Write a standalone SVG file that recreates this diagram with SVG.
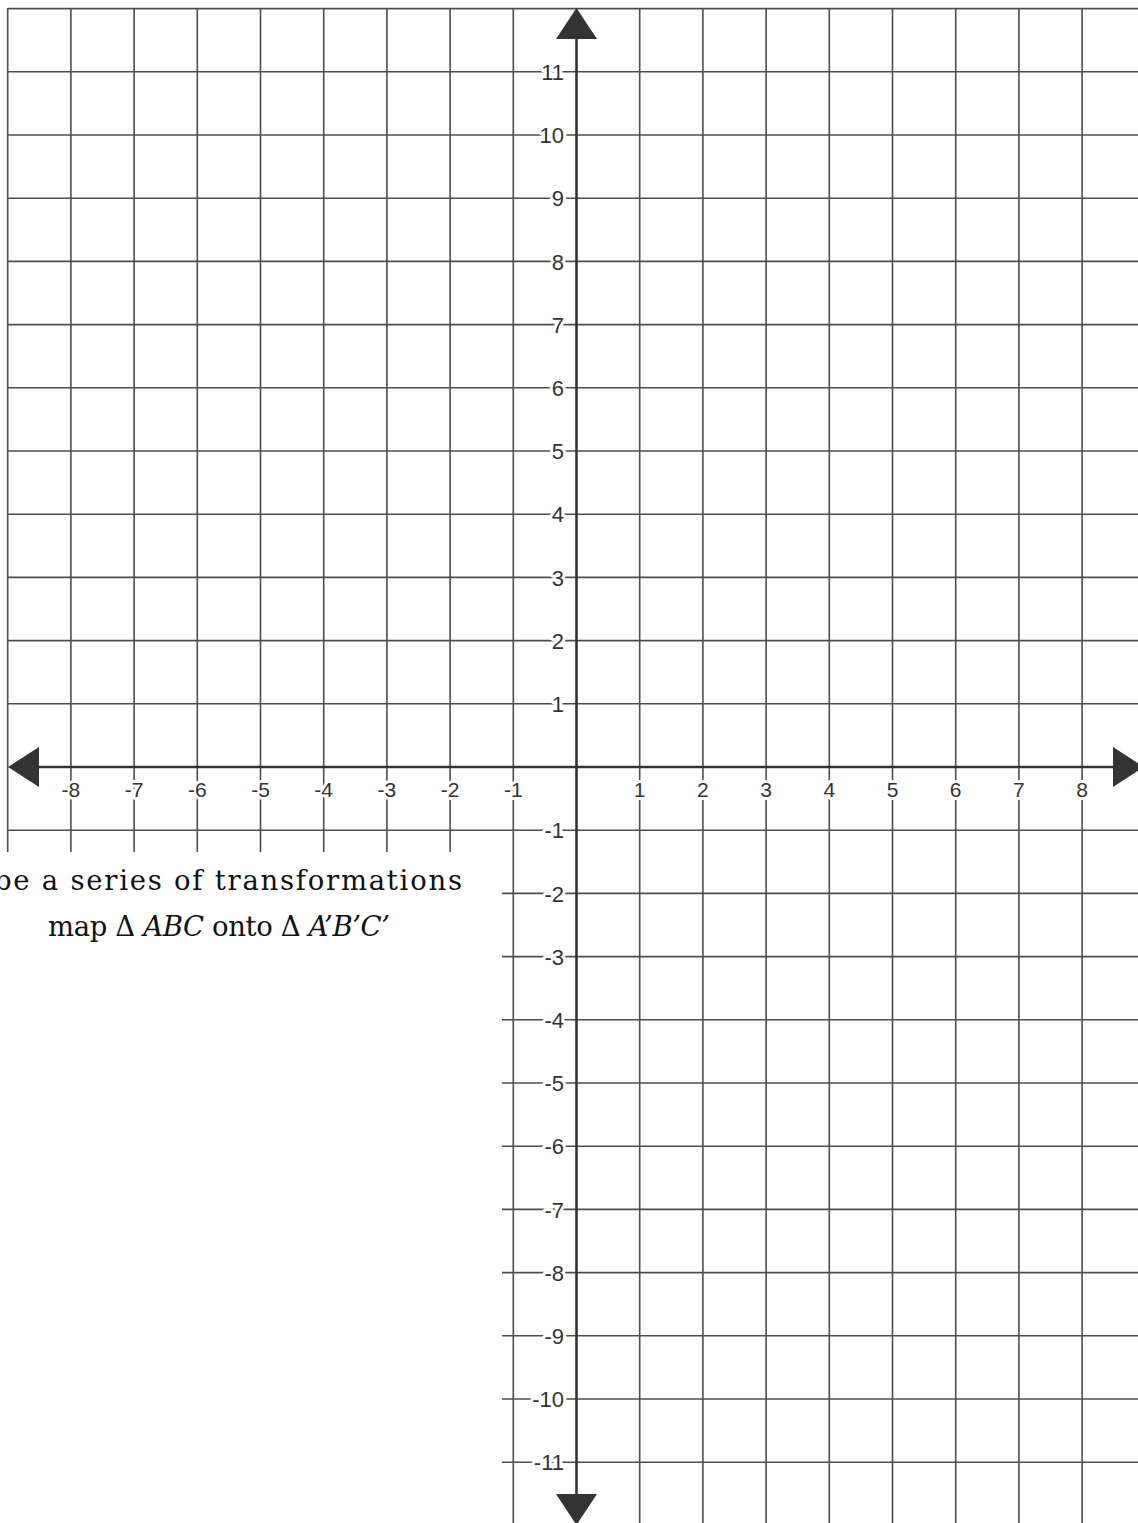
<svg xmlns="http://www.w3.org/2000/svg" width="1138" height="1523" viewBox="0 0 1138 1523">
  <style>
    .g { stroke: #4d4d4d; stroke-width: 1.6; fill: none; }
    .ax { stroke: #333333; stroke-width: 2.6; fill: none; }
    .arr { fill: #333333; }
    .lbl { font-family: "Liberation Sans", Arial, sans-serif; font-size: 21px; fill: #333333; stroke: #ffffff; stroke-width: 6px; paint-order: stroke; stroke-linejoin: round; }
    .xl { text-anchor: middle; }
    .yl { text-anchor: end; font-size: 22px; }
    .txt { font-family: "DejaVu Serif", "Liberation Serif", serif; font-size: 27.5px; fill: #111111; }
    .it { font-style: italic; }
  </style>
  <rect x="0" y="0" width="1138" height="1523" fill="#ffffff"/>
  <g id="grid">
    <path class="g" d="M7.7 8V852 M70.9 8V852 M134.1 8V852 M197.3 8V852 M260.5 8V852 M323.7 8V852 M386.9 8V852 M450.1 8V852"/>
    <path class="g" d="M513.3 8V1523 M639.7 8V1523 M702.9 8V1523 M766.1 8V1523 M829.3 8V1523 M892.5 8V1523 M955.7 8V1523 M1018.9 8V1523 M1082.1 8V1523"/>
    <path class="g" d="M7.7 8.6H1138 M7.7 71.8H1138 M7.7 135H1138 M7.7 198.2H1138 M7.7 261.4H1138 M7.7 324.6H1138 M7.7 387.8H1138 M7.7 451H1138 M7.7 514.2H1138 M7.7 577.4H1138 M7.7 640.6H1138 M7.7 703.8H1138 M7.7 830.2H1138"/>
    <path class="g" d="M502 893.4H1138 M502 956.6H1138 M502 1019.8H1138 M502 1083H1138 M502 1146.2H1138 M502 1209.4H1138 M502 1272.6H1138 M502 1335.8H1138 M502 1399H1138 M502 1462.2H1138"/>
  </g>
  <g id="axes">
    <line class="ax" x1="39" y1="767" x2="1113" y2="767"/>
    <line class="ax" x1="576.5" y1="39" x2="576.5" y2="1494"/>
    <polygon class="arr" points="8,767 39,747 39,787"/>
    <polygon class="arr" points="1144,767 1113,747 1113,787"/>
    <polygon class="arr" points="576.5,8 556,39 597,39"/>
    <polygon class="arr" points="576.5,1525 556,1494 597,1494"/>
  </g>
  <g id="x-labels" class="lbl xl">
    <text x="70.9" y="797">-8</text>
    <text x="134.1" y="797">-7</text>
    <text x="197.3" y="797">-6</text>
    <text x="260.5" y="797">-5</text>
    <text x="323.7" y="797">-4</text>
    <text x="386.9" y="797">-3</text>
    <text x="450.1" y="797">-2</text>
    <text x="513.3" y="797">-1</text>
    <text x="639.7" y="797">1</text>
    <text x="702.9" y="797">2</text>
    <text x="766.1" y="797">3</text>
    <text x="829.3" y="797">4</text>
    <text x="892.5" y="797">5</text>
    <text x="955.7" y="797">6</text>
    <text x="1018.9" y="797">7</text>
    <text x="1082.1" y="797">8</text>
  </g>
  <g id="y-labels" class="lbl yl">
    <text x="564" y="79.5">11</text>
    <text x="564" y="143">10</text>
    <text x="564" y="206">9</text>
    <text x="564" y="269.5">8</text>
    <text x="564" y="332.5">7</text>
    <text x="564" y="396">6</text>
    <text x="564" y="459">5</text>
    <text x="564" y="522">4</text>
    <text x="564" y="585.5">3</text>
    <text x="564" y="648.5">2</text>
    <text x="564" y="712">1</text>
    <text x="564" y="838">-1</text>
    <text x="564" y="901.5">-2</text>
    <text x="564" y="964.5">-3</text>
    <text x="564" y="1028">-4</text>
    <text x="564" y="1091">-5</text>
    <text x="564" y="1154">-6</text>
    <text x="564" y="1217.5">-7</text>
    <text x="564" y="1280.5">-8</text>
    <text x="564" y="1344">-9</text>
    <text x="564" y="1407">-10</text>
    <text x="564" y="1470">-11</text>
  </g>
  <g id="caption" class="txt">
    <text x="-6" y="890" textLength="468" lengthAdjust="spacing">be a series of transformations</text>
    <text x="48" y="936" textLength="342" lengthAdjust="spacing">map Δ <tspan class="it">ABC</tspan> onto Δ <tspan class="it">A’B’C’</tspan></text>
  </g>
</svg>
